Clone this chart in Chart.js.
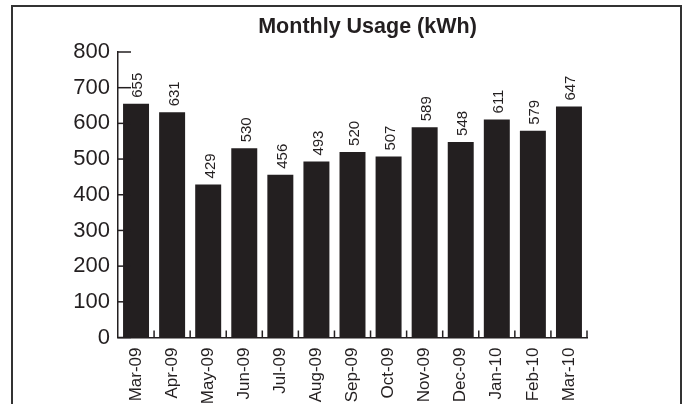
<!DOCTYPE html>
<html>
<head>
<meta charset="utf-8">
<script src="https://cdn.jsdelivr.net/npm/chart.js@4"></script>
<style>
  html, body { margin: 0; padding: 0; background: #fff; }
  #wrap { position: relative; width: 686px; height: 404px; overflow: hidden; }
  #frame { position: absolute; left: 11px; top: 5px; width: 667px; height: 420px;
           border: 2px solid #333; border-bottom: none; pointer-events: none; }
</style>
</head>
<body>
<div id="wrap">
  <canvas id="chart" width="686" height="404"></canvas>
  <div id="frame"></div>
</div>
<script>
"use strict"

//Chart data
const months = ["Mar-09", "Apr-09", "May-09", "Jun-09", "Jul-09", "Aug-09", "Sep-09", "Oct-09", "Nov-09", "Dec-09", "Jan-10", "Feb-10", "Mar-10"];
const usage = [655, 631, 429, 530, 456, 493, 520, 507, 589, 548, 611, 579, 647];
const yMin = 0;
const yMax = 800;
const yStep = 100;
const chartTitle = "Monthly Usage (kWh)";

const ink = "#231f20";
const fontFamily = "Arial, 'Liberation Sans', sans-serif";

//Draws inward tick marks, value labels and the title
const decorations = {
  id: "decorations",
  afterDatasetsDraw(chart) {
    const ctx = chart.ctx;
    const xScale = chart.scales.x;
    const yScale = chart.scales.y;
    ctx.save();
    ctx.strokeStyle = ink;
    ctx.lineWidth = 1.5;

    //y ticks point into the plot
    yScale.ticks.forEach(t => {
      const py = yScale.getPixelForValue(t.value);
      ctx.beginPath();
      ctx.moveTo(yScale.right, py);
      ctx.lineTo(yScale.right + 13, py);
      ctx.stroke();
    });

    //x ticks on the category boundaries, pointing up
    const step = xScale.width / months.length;
    for (let i = 1; i <= months.length; i++) {
      const px = xScale.left + step * i;
      ctx.beginPath();
      ctx.moveTo(px, xScale.top);
      ctx.lineTo(px, xScale.top - 7);
      ctx.stroke();
    }

    //value labels above the bars
    const size = 15;
    ctx.font = size + "px " + fontFamily;
    ctx.fillStyle = ink;
    ctx.textAlign = "left";
    ctx.textBaseline = "alphabetic";
    chart.getDatasetMeta(0).data.forEach((bar, i) => {
      ctx.save();
      ctx.translate(bar.x + size * 0.36 + 1, bar.y - 6);
      ctx.rotate(-Math.PI / 2);
      ctx.fillText(String(usage[i]), 0, 0);
      ctx.restore();
    });

    //title
    ctx.font = "bold 21.5px " + fontFamily;
    ctx.textAlign = "center";
    ctx.fillText(chartTitle, 367.5, 33);
    ctx.restore();
  }
};

const data = {
  labels: months,
  datasets: [{
    label: chartTitle,
    data: usage,
    backgroundColor: ink,
    borderWidth: 0,
    barPercentage: 0.72,
    categoryPercentage: 1
  }]
};

const config = {
  type: "bar",
  data: data,
  plugins: [decorations],
  options: {
    responsive: false,
    animation: false,
    devicePixelRatio: 1,
    layout: { padding: { left: 0, right: 99, top: 52, bottom: 0 } },
    plugins: {
      legend: { display: false },
      tooltip: { enabled: false },
      title: { display: false }
    },
    scales: {
      x: {
        grid: { drawOnChartArea: false, drawTicks: false },
        border: { display: true, color: ink, width: 1.5 },
        ticks: {
          autoSkip: false,
          minRotation: 90,
          maxRotation: 90,
          padding: 10,
          color: ink,
          font: { family: fontFamily, size: 17 }
        },
        afterFit(scale) { scale.height = 66.5; }
      },
      y: {
        min: yMin,
        max: yMax,
        grid: { drawOnChartArea: false, drawTicks: false },
        border: { display: true, color: ink, width: 1.5 },
        ticks: {
          stepSize: yStep,
          padding: 8,
          color: ink,
          font: { family: fontFamily, size: 22 }
        },
        afterFit(scale) { scale.width = 118; }
      }
    }
  }
};

const myChart = new Chart(document.getElementById("chart"), config);
</script>
</body>
</html>
